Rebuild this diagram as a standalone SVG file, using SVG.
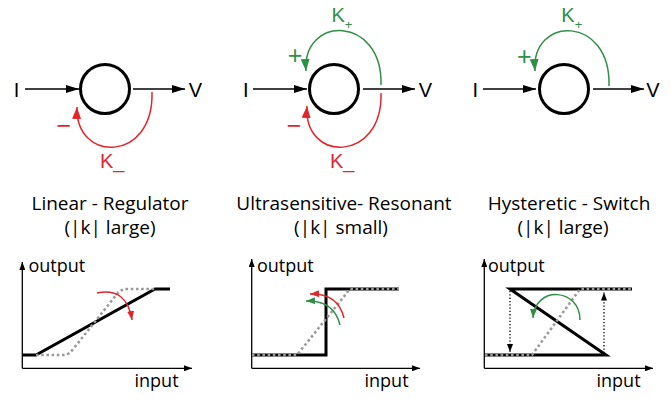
<svg xmlns="http://www.w3.org/2000/svg" width="671" height="399" viewBox="0 0 671 399">
<style>
.node{fill:none;stroke:#000;stroke-width:3}
.lbl{font-family:"Liberation Sans",Arial,sans-serif;font-size:20px;fill:#000}
.red{fill:#e1252b}
.green{fill:#2f8f46}
.sign{font-family:"Liberation Sans",Arial,sans-serif;font-size:25px}
.title{font-family:"Open Sans","Liberation Sans",sans-serif;font-size:19px;fill:#000;text-anchor:middle}
.ax{font-family:"Open Sans","Liberation Sans",sans-serif;font-size:18px;fill:#000}
.wire{fill:none;stroke:#000;stroke-width:1.5}
.fbr{fill:none;stroke:#e1252b;stroke-width:1.5}
.fbg{fill:none;stroke:#2f8f46;stroke-width:1.5}
.axis{fill:none;stroke:#000;stroke-width:1.3}
.curve{fill:none;stroke:#000;stroke-width:3;stroke-linejoin:miter}
.dots{fill:none;stroke:#9a9a9a;stroke-width:2.6;stroke-dasharray:2.6 2.6}
.jump{fill:none;stroke:#000;stroke-width:1.3;stroke-dasharray:1.3 2}
</style>
<defs>
<marker id="ab" markerUnits="userSpaceOnUse" markerWidth="13" markerHeight="8" refX="13" refY="4" orient="auto"><path d="M0,0 L13,4 L0,8 z" fill="#000"/></marker>
<marker id="ar" markerUnits="userSpaceOnUse" markerWidth="12" markerHeight="9" refX="12" refY="4.5" orient="auto"><path d="M0,0 L12,4.5 L0,9 z" fill="#e1252b"/></marker>
<marker id="ag" markerUnits="userSpaceOnUse" markerWidth="12" markerHeight="9" refX="12" refY="4.5" orient="auto"><path d="M0,0 L12,4.5 L0,9 z" fill="#2f8f46"/></marker>
<marker id="asr" markerUnits="userSpaceOnUse" markerWidth="9" markerHeight="7" refX="9" refY="3.5" orient="auto"><path d="M0,0 L9,3.5 L0,7 z" fill="#e1252b"/></marker>
<marker id="asg" markerUnits="userSpaceOnUse" markerWidth="9" markerHeight="7" refX="9" refY="3.5" orient="auto"><path d="M0,0 L9,3.5 L0,7 z" fill="#2f8f46"/></marker>
<marker id="ax" markerUnits="userSpaceOnUse" markerWidth="8" markerHeight="6" refX="8" refY="3" orient="auto"><path d="M0,0 L8,3 L0,6 z" fill="#000"/></marker>
</defs>

<!-- Panel 1: Linear - Regulator -->
<g id="node-linear">
<circle class="node" cx="105" cy="89" r="24.5"/>
<text class="lbl" x="16.5" y="97" text-anchor="middle">I</text>
<text class="lbl" x="195.5" y="97" text-anchor="middle">V</text>
<text class="sign red" x="63.8" y="134" text-anchor="middle">−</text>
<text class="lbl red" x="100" y="168">K_</text>
</g>
<!-- Panel 2: Ultrasensitive - Resonant -->
<g id="node-ultrasensitive">
<circle class="node" cx="334" cy="89" r="24.5"/>
<text class="lbl" x="245.7" y="97" text-anchor="middle">I</text>
<text class="lbl" x="425.5" y="97" text-anchor="middle">V</text>
<text class="sign green" x="295" y="64" text-anchor="middle">+</text>
<text class="sign red" x="294" y="133.5" text-anchor="middle">−</text>
<text class="lbl green" x="331.5" y="21.7">K<tspan font-size="13" dy="7.5">+</tspan></text>
<text class="lbl red" x="330" y="168">K_</text>
</g>
<!-- Panel 3: Hysteretic - Switch -->
<g id="node-hysteretic">
<circle class="node" cx="564" cy="89" r="24.5"/>
<text class="lbl" x="475.3" y="97" text-anchor="middle">I</text>
<text class="lbl" x="653" y="97" text-anchor="middle">V</text>
<text class="sign green" x="524.2" y="64.5" text-anchor="middle">+</text>
<text class="lbl green" x="561.3" y="21.7">K<tspan font-size="13" dy="7.5">+</tspan></text>
</g>

<g id="connectors">
<line class="wire" x1="25" y1="89" x2="79" y2="89" marker-end="url(#ab)"/>
<line class="wire" x1="133" y1="89" x2="185" y2="89" marker-end="url(#ab)"/>
<path class="fbr" d="M152,92 C154,163 75,163 77,107" marker-end="url(#ar)"/>

<line class="wire" x1="253" y1="89" x2="307" y2="89" marker-end="url(#ab)"/>
<line class="wire" x1="363" y1="89" x2="415" y2="89" marker-end="url(#ab)"/>
<path class="fbg" d="M381,85 C383,15 302,15 306,71" marker-end="url(#ag)"/>
<path class="fbr" d="M381,93 C383,163 303,163 307,106" marker-end="url(#ar)"/>

<line class="wire" x1="483" y1="89" x2="536" y2="89" marker-end="url(#ab)"/>
<line class="wire" x1="593" y1="89" x2="644" y2="89" marker-end="url(#ab)"/>
<path class="fbg" d="M609,86 C611,15 531,15 535,71" marker-end="url(#ag)"/>
</g>

<g id="titles">
<text class="title" x="110" y="210">Linear - Regulator</text>
<text class="title" x="110" y="234">(|k| large)</text>
<text class="title" x="344" y="210">Ultrasensitive- Resonant</text>
<text class="title" x="341" y="234">(|k| small)</text>
<text class="title" x="569" y="210">Hysteretic - Switch</text>
<text class="title" x="563" y="234">(|k| large)</text>
</g>

<!-- Graph 1 -->
<g id="graph-linear">
<line class="axis" x1="22.3" y1="368.3" x2="22.3" y2="262" marker-end="url(#ax)"/>
<line class="axis" x1="22.3" y1="368.3" x2="192" y2="368.3" marker-end="url(#ax)"/>
<text class="ax" x="28.5" y="272">output</text>
<text class="ax" x="134.5" y="387">input</text>
<polyline class="curve" points="22.3,355 36,355 155,289 170,289"/>
<path class="dots" d="M36,355 L64,355 Q69,355 74,348 L117,294 Q121,289 127,289 L155,289"/>
<path class="fbr" d="M97,293 Q127,287 132,320" marker-end="url(#asr)"/>
</g>

<!-- Graph 2 -->
<g id="graph-ultrasensitive">
<line class="axis" x1="251.7" y1="368.3" x2="251.7" y2="259" marker-end="url(#ax)"/>
<line class="axis" x1="251.7" y1="368.3" x2="420" y2="368.3" marker-end="url(#ax)"/>
<text class="ax" x="257" y="272">output</text>
<text class="ax" x="364.5" y="387">input</text>
<polyline class="curve" points="251.7,355 326,355 326,289 399,289"/>
<polyline class="dots" points="252,355 297,355 350,289 399,289"/>
<path class="fbr" d="M344,318 Q338,293 310,294" marker-end="url(#asr)"/>
<path class="fbg" d="M340,325 Q334,300 306,301" marker-end="url(#asg)"/>
</g>

<!-- Graph 3 -->
<g id="graph-hysteretic">
<line class="axis" x1="484.3" y1="368.3" x2="484.3" y2="259" marker-end="url(#ax)"/>
<line class="axis" x1="484.3" y1="368.3" x2="653" y2="368.3" marker-end="url(#ax)"/>
<text class="ax" x="488" y="272">output</text>
<text class="ax" x="596.5" y="387">input</text>
<line class="jump" x1="510" y1="291" x2="510" y2="352" marker-end="url(#ax)"/>
<line class="jump" x1="604" y1="353" x2="604" y2="292.5" marker-end="url(#ax)"/>
<polyline class="curve" points="485,355 606,355 510,289 632,289"/>
<polyline class="dots" points="485,355 532,355 580,289 632,289"/>
<path class="fbg" d="M580,320 C580,288 535,285 533,318" marker-end="url(#asg)"/>
</g>
</svg>
